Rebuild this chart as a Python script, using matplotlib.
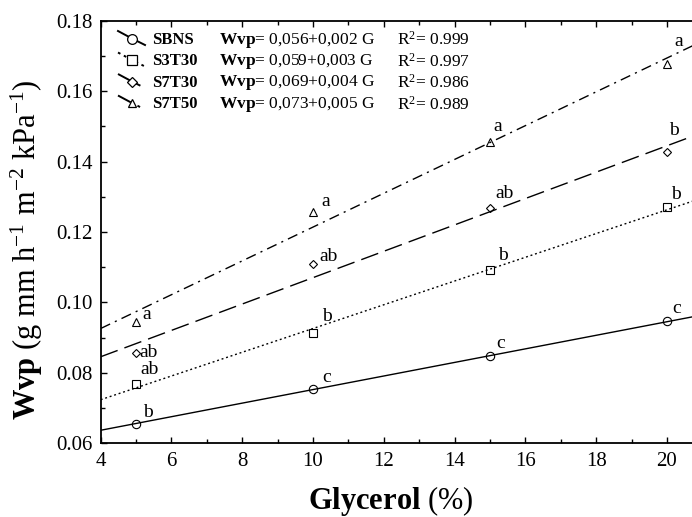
import numpy as np
import matplotlib
matplotlib.use("Agg")
import matplotlib.pyplot as plt

plt.rcParams['font.family'] = ['Liberation Serif', 'DejaVu Serif']
plt.rcParams['mathtext.fontset'] = 'custom'
plt.rcParams['mathtext.rm'] = 'Liberation Serif'
plt.rcParams['mathtext.it'] = 'Liberation Serif:italic'
plt.rcParams['mathtext.bf'] = 'Liberation Serif:bold'

# glycerol content (%)
glycerol = [5, 10, 15, 20]

# Wvp values
sbns = [0.0656, 0.0754, 0.0847, 0.0946]
s3t30 = [0.0768, 0.0912, 0.1091, 0.1270]
s7t30 = [0.0855, 0.1108, 0.1267, 0.1426]
s7t50 = [0.0944, 0.1258, 0.1456, 0.1678]

# significance letters
let_sbns = ['b', 'c', 'c', 'c']
let_s3t30 = ['ab', 'b', 'b', 'b']
let_s7t30 = ['ab', 'ab', 'ab', 'b']
let_s7t50 = ['a', 'a', 'a', 'a']

names = ['SBNS', 'S3T30', 'S7T30', 'S7T50']
equations = ['0,056+0,002 G', '0,059+0,003 G', '0,069+0,004 G', '0,073+0,005 G']
r2 = ['0.999', '0.997', '0.986', '0.989']

# styles
markers = ['o', 's', 'D', '^']
msizes = [6, 5.5, 4.2, 5.2]
dashes = [None, (1.4, 2.0), (13, 5.2), (7.5, 3.8, 1.5, 3.8)]
# label offsets in pixels (dx, dy)
offsets = [[(7, 7), (9, 7), (6, 8), (5, 8)],
           [(4, 10), (9, 12), (8, 10), (4, 8)],
           [(3, -4), (6, 3), (5, 10), (2, 17)],
           [(6, 3), (8, 6), (3, 11), (7, 18)]]

fig = plt.figure(figsize=(6.92, 5.17), dpi=100)
ax = fig.add_axes([100.7 / 692, (517 - 443.3) / 517, 637 / 692, 422.6 / 517])

series = [sbns, s3t30, s7t30, s7t50]
letters = [let_sbns, let_s3t30, let_s7t30, let_s7t50]
xfit = np.array([4, 22])
lw = 1.0

for i in range(len(series)):
    y = series[i]
    slope, icpt = np.polyfit(glycerol, y, 1)
    line, = ax.plot(xfit, icpt + slope * xfit, color='black', lw=lw)
    if dashes[i] is not None:
        line.set_dashes(dashes[i])
    ax.plot(glycerol, y, linestyle='none', marker=markers[i], ms=msizes[i],
            mfc='none', mec='black', mew=0.8)
    for j in range(len(glycerol)):
        ax.annotate(letters[i][j], (glycerol[j], y[j]), xytext=offsets[i][j],
                    textcoords='offset pixels', fontsize=14,
                    ha='left', va='baseline')

# legend drawn by hand (slanted handles like the original)
def ax_xy(px, py):
    return (px - 100.7) / 637, 1 - (py - 20.7) / 422.6

rows_y = [40, 61.5, 83, 104.5]
for i in range(len(names)):
    ry = rows_y[i]
    x0, y0 = ax_xy(118, ry - 9)
    xm, ym = ax_xy(132, ry - 1.5)
    x1, y1 = ax_xy(145, ry + 5)
    h, = ax.plot([x0, xm, x1], [y0, ym, y1], color='black', lw=1.4,
                 transform=ax.transAxes, clip_on=False)
    if dashes[i] is not None:
        h.set_dashes(dashes[i])
    ax.plot([xm], [ym], marker=markers[i], ms=msizes[i] + 1, mfc='white',
            mec='black', mew=0.9, transform=ax.transAxes, clip_on=False)
    tx, ty = ax_xy(152, ry)
    ax.text(tx, ty, names[i], transform=ax.transAxes, fontsize=12,
            fontweight='bold', va='center', ha='left')
    tx, ty = ax_xy(219, ry)
    ax.text(tx, ty, r'$\mathbf{Wvp}$= ' + equations[i], transform=ax.transAxes,
            fontsize=12.5, va='center', ha='left')
    tx, ty = ax_xy(397, ry)
    ax.text(tx, ty, r'R$^2$= ' + r2[i], transform=ax.transAxes,
            fontsize=12.5, va='center', ha='left')

ax.set_xlim(4, 22)
ax.set_ylim(0.06, 0.18)
ax.set_xticks(np.arange(4, 22, 2))
ax.set_xticks(np.arange(4, 23, 1), minor=True)
ax.set_yticks(np.arange(0.06, 0.181, 0.02))
ax.set_yticks(np.arange(0.06, 0.181, 0.01), minor=True)
ax.set_yticklabels(['0.06', '0.08', '0.10', '0.12', '0.14', '0.16', '0.18'])
ax.tick_params(which='both', direction='in', top=True, right=True,
               labelsize=15, pad=6, width=1)
ax.tick_params(which='major', length=4)
ax.tick_params(which='minor', length=3)
for s in ax.spines.values():
    s.set_linewidth(1.3)

fig.text(308 / 692, 1 - 501 / 517, r'$\mathbf{Glycerol}$ (%)', fontsize=22,
         ha='left', va='center')
fig.text(27 / 692, 1 - 250 / 517,
         r'$\mathbf{Wvp}$ (g mm h$^{\mathregular{-1}}$ m$^{\mathregular{-2}}$ kPa$^{\mathregular{-1}}$)',
         fontsize=22, rotation=90, ha='center', va='center')

fig.savefig('out.png', dpi=100)
